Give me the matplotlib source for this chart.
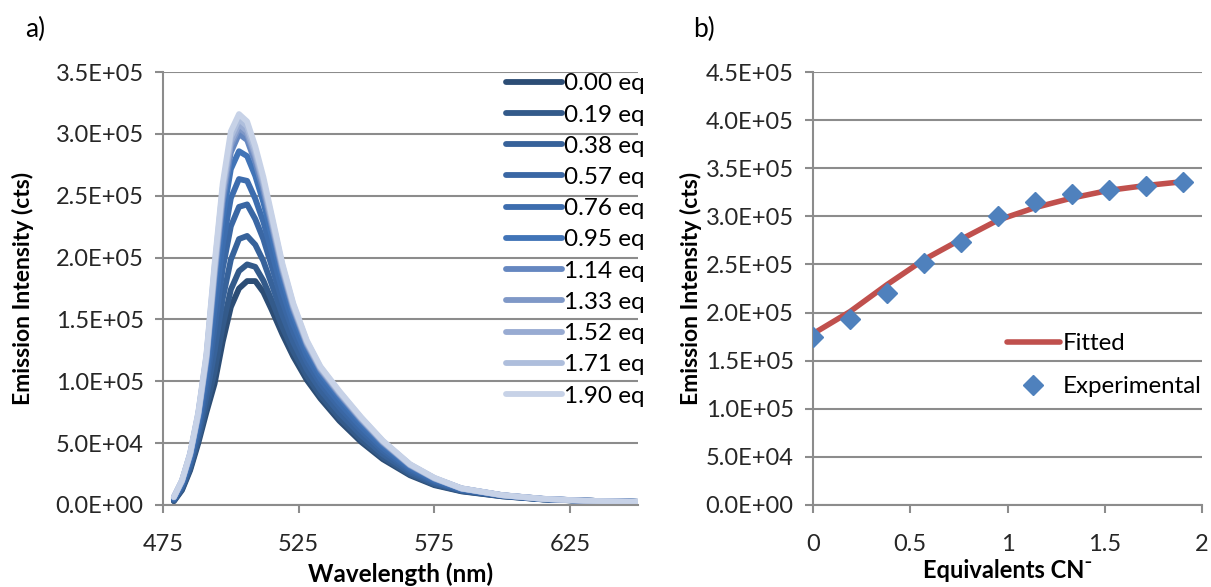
import numpy as np
import matplotlib
matplotlib.use("Agg")
import matplotlib.pyplot as plt
from matplotlib.ticker import FuncFormatter, MultipleLocator

plt.rcParams["font.family"] = ["Lato", "DejaVu Sans"]

# ---- panel a: emission spectra (intensity in thousands of counts) ----
wavelength = [479, 482, 485, 488, 491, 494, 497, 500, 503, 506, 509, 512, 515,
              519, 523, 528, 533, 540, 548, 556, 566, 575, 585, 600, 615, 630, 650]

eq_labels = ["0.00 eq", "0.19 eq", "0.38 eq", "0.57 eq", "0.76 eq", "0.95 eq",
             "1.14 eq", "1.33 eq", "1.52 eq", "1.71 eq", "1.90 eq"]

spec_000 = [3.0, 12.0, 28.0, 50.0, 75.0, 98.0, 132.0, 160.0, 175.0, 181.0, 181.0, 172.0, 158.0,
            138.0, 120.0, 101.0, 86.0, 68.0, 51.0, 37.0, 24.0, 16.0, 11.0, 7.0, 4.5, 3.5, 2.5]
spec_019 = [3.4, 12.8, 29.4, 52.5, 79.7, 107.7, 144.8, 174.2, 189.1, 194.5, 192.5, 181.3, 165.7,
            143.7, 124.3, 104.2, 88.6, 70.4, 53.0, 38.5, 24.9, 16.6, 11.3, 7.1, 4.6, 3.5, 2.5]
spec_038 = [3.9, 14.2, 31.8, 56.8, 87.7, 124.2, 166.6, 198.3, 215.0, 217.5, 210.4, 197.1, 178.8,
            153.4, 131.6, 109.6, 93.0, 74.5, 56.4, 41.0, 26.4, 17.6, 11.7, 7.3, 4.6, 3.5, 2.5]
spec_057 = [4.6, 15.7, 34.4, 61.5, 96.6, 142.6, 190.9, 225.3, 241.0, 243.0, 231.1, 214.8, 193.4,
            164.2, 139.8, 115.7, 98.0, 79.0, 60.2, 43.9, 28.1, 18.8, 12.2, 7.5, 4.7, 3.5, 2.5]
spec_076 = [5.1, 16.9, 36.5, 65.3, 103.7, 157.2, 210.1, 248.0, 263.5, 262.0, 247.5, 228.7, 205.0,
            172.8, 146.2, 120.5, 101.9, 82.6, 63.2, 46.2, 29.5, 19.7, 12.5, 7.6, 4.8, 3.5, 2.5]
spec_095 = [5.7, 18.2, 38.9, 69.5, 111.7, 173.7, 231.8, 271.5, 286.0, 282.0, 266.0, 244.5, 218.0,
            182.5, 153.5, 126.0, 106.3, 86.7, 66.6, 48.7, 31.0, 20.7, 13.0, 7.8, 4.9, 3.5, 2.5]
spec_114 = [6.1, 19.0, 40.3, 72.0, 116.4, 183.4, 244.6, 285.0, 300.0, 295.0, 277.0, 253.8, 225.8,
            188.2, 157.8, 129.2, 108.9, 89.1, 68.6, 50.2, 31.9, 21.3, 13.2, 7.9, 4.9, 3.5, 2.5]
spec_133 = [6.2, 19.4, 40.9, 73.0, 118.2, 187.2, 249.8, 290.6, 305.0, 299.7, 281.3, 257.6, 228.8,
            190.4, 159.6, 130.4, 109.9, 90.1, 69.4, 50.8, 32.3, 21.5, 13.3, 7.9, 5.0, 3.5, 2.5]
spec_152 = [6.3, 19.5, 41.2, 73.5, 119.2, 189.2, 252.3, 293.5, 308.0, 302.3, 283.5, 259.4, 230.4,
            191.6, 160.4, 131.1, 110.4, 90.6, 69.8, 51.1, 32.5, 21.6, 13.4, 7.9, 5.0, 3.5, 2.5]
spec_171 = [6.4, 19.8, 41.6, 74.3, 120.6, 192.1, 256.2, 297.7, 312.0, 306.1, 286.7, 262.2, 232.7,
            193.3, 161.7, 132.0, 111.2, 91.3, 70.4, 51.6, 32.7, 21.8, 13.4, 8.0, 5.0, 3.5, 2.5]
spec_190 = [6.5, 20.0, 42.0, 75.0, 122.0, 195.0, 260.0, 302.0, 316.0, 310.0, 290.0, 265.0, 235.0,
            195.0, 163.0, 133.0, 112.0, 92.0, 71.0, 52.0, 33.0, 22.0, 13.5, 8.0, 5.0, 3.5, 2.5]

spectra = [spec_000, spec_019, spec_038, spec_057, spec_076, spec_095,
           spec_114, spec_133, spec_152, spec_171, spec_190]

spec_colors = ["#2C4D75", "#335A8A", "#37629A", "#3A67A4", "#3D6DAE", "#4174B7",
               "#6587C0", "#7F98C7", "#98ABD2", "#AEBEDC", "#C7D2E7"]

# ---- panel b: titration curve ----
equivalents = [0.0, 0.19, 0.38, 0.57, 0.76, 0.95, 1.14, 1.33, 1.52, 1.71, 1.90]
experimental = [1.75e5, 1.93e5, 2.20e5, 2.51e5, 2.73e5, 3.00e5, 3.15e5, 3.23e5, 3.27e5, 3.32e5, 3.36e5]
fitted = [1.78e5, 2.01e5, 2.29e5, 2.55e5, 2.76e5, 2.96e5, 3.09e5, 3.19e5, 3.27e5, 3.32e5, 3.36e5]

GRID = "#8C8C8C"
INK = "#262626"
FS = 17


def sci(v, pos):
    return f"{v:.1E}"


def _style(ax):
    for s in ("top", "right"):
        ax.spines[s].set_visible(False)
    for s in ("left", "bottom"):
        ax.spines[s].set_color(GRID)
        ax.spines[s].set_linewidth(1.5)
    ax.yaxis.grid(True, color=GRID, lw=1.5)
    ax.set_axisbelow(True)
    ax.tick_params(colors=GRID, labelcolor=INK, labelsize=FS, width=1.5, length=6)
    ax.tick_params(axis="x", pad=15)
    ax.tick_params(axis="y", pad=8)
    ax.yaxis.set_major_formatter(FuncFormatter(sci))


fig = plt.figure(figsize=(12.11, 5.87), dpi=100)

# a)
ax1 = fig.add_axes([0.1346, 0.1397, 0.3922, 0.7376])
wl = np.array(wavelength)
for lab, vals, c in zip(eq_labels, spectra, spec_colors):
    ax1.plot(wl, np.array(vals) * 1e3, color=c, lw=4.2, label=lab,
             solid_capstyle="round", solid_joinstyle="round")
ax1.set_xlim(475, 650)
ax1.set_ylim(0, 3.5e5)
ax1.set_xticks([475, 525, 575, 625])
ax1.yaxis.set_major_locator(MultipleLocator(5e4))
ax1.set_xlabel("Wavelength (nm)", fontsize=17.5, fontweight="bold", color="black", labelpad=5)
ax1.set_ylabel("Emission Intensity (cts)", fontsize=16.5, fontweight="bold", color="black")
ax1.yaxis.set_label_coords(-0.272, 0.5)
_style(ax1)
ax1.legend(loc="upper right", bbox_to_anchor=(1.015, 0.997), frameon=False, fontsize=17.5,
           labelspacing=0.42, handlelength=2.3, handletextpad=0.1, borderaxespad=0,
           borderpad=0)

# b)
ax2 = fig.add_axes([0.6714, 0.1397, 0.3212, 0.7376])
ax2.plot(equivalents, fitted, color="#C0504D", lw=4, label="Fitted", zorder=3,
         solid_capstyle="round")
ax2.plot(equivalents, experimental, ls="none", marker="D", ms=10, color="#4F81BD",
         label="Experimental", zorder=4)
ax2.set_xlim(0, 2)
ax2.set_ylim(0, 4.5e5)
ax2.set_xticks([0, 0.5, 1, 1.5, 2])
ax2.set_xticklabels(["0", "0.5", "1", "1.5", "2"])
ax2.yaxis.set_major_locator(MultipleLocator(5e4))
ax2.set_xlabel("Equivalents CN\u207b", fontsize=17, fontweight="bold", color="black", labelpad=3)
ax2.set_ylabel("Emission Intensity (cts)", fontsize=16.5, fontweight="bold", color="black")
ax2.yaxis.set_label_coords(-0.285, 0.5)
_style(ax2)
ax2.legend(loc="upper right", bbox_to_anchor=(1.0, 0.397), frameon=False, fontsize=17.3,
           labelspacing=0.92, handlelength=2.2, handletextpad=0.15, borderaxespad=0,
           borderpad=0)

fig.text(0.021, 0.95, "a)", fontsize=19, color="black", va="center")
fig.text(0.572, 0.95, "b)", fontsize=19, color="black", va="center")

fig.savefig("out.png", dpi=100, facecolor="white")
